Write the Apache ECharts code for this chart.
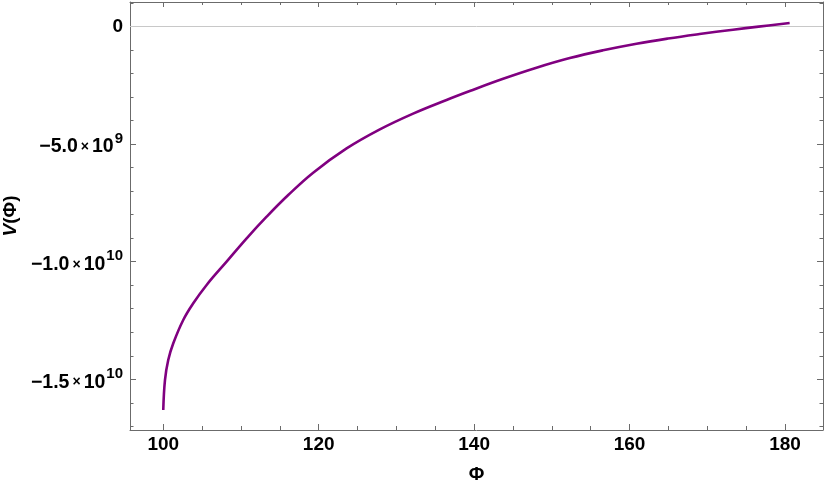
<!DOCTYPE html>
<html>
<head>
<meta charset="utf-8">
<script src="https://cdn.jsdelivr.net/npm/echarts@6/dist/echarts.min.js"></script>
<style>
html,body{margin:0;padding:0;background:#fff;}
#chart{width:825px;height:490px;}
</style>
</head>
<body>
<div id="chart"></div>
<script>
// ---- data ----
const phiValues = [100.0, 100.22, 100.64, 101.29, 102.57, 103.86, 105.58, 108.15, 110.73, 113.30,
  116.08, 119.29, 123.59, 127.87, 132.15, 136.45, 139.44, 143.73, 148.02, 152.31,
  156.59, 160.89, 164.95, 169.0, 173.31, 176.6, 180.6];
const vValues = [-16.30e9, -15.03e9, -14.18e9, -13.47e9, -12.48e9, -11.77e9, -10.99e9, -10.00e9, -9.01e9, -8.09e9,
  -7.17e9, -6.22e9, -5.19e9, -4.38e9, -3.71e9, -3.13e9, -2.75e9, -2.23e9, -1.76e9, -1.35e9,
  -1.02e9, -0.74e9, -0.52e9, -0.33e9, -0.145e9, -0.015e9, 0.14e9];

const xMajorTicks = [100, 120, 140, 160, 180];
const xMinorTicks = [105, 110, 115, 125, 130, 135, 145, 150, 155, 165, 170, 175];
const yMajorTicks = [0, -5e9, -1e10, -1.5e10];
const yTickMantissa = ['0', '−5.0', '−1.0', '−1.5'];
const yTickExponent = ['', '9', '10', '10'];
const yMinorTicks = [1e9, -1e9, -2e9, -3e9, -4e9, -6e9, -7e9, -8e9, -9e9, -11e9, -12e9, -13e9, -14e9, -16e9, -17e9];

const xName = 'Φ';
const yNameItalic = 'V';
const yNameRest = '(Φ)';

// ---- chart ----
const FRAME = '#6b6b6b';
const FONT = '"Liberation Sans", Arial, sans-serif';
const xMin = 95.72, xMax = 184.89;
const yMin = -17.153e9, yMax = 1.032e9;

function yLabel(v) {
  for (let i = 0; i < yMajorTicks.length; i++) {
    if (Math.abs(v - yMajorTicks[i]) < 1e3) {
      if (!yTickExponent[i]) return '{z|' + yTickMantissa[i] + '}';
      return '{m|' + yTickMantissa[i] + '}{x|×}{m|10}{s|' + yTickExponent[i] + '}';
    }
  }
  return '';
}

function xAxisDef(pos, ticks, len, showLine, showLabel, extra) {
  return Object.assign({
    type: 'value', position: pos, min: xMin, max: xMax,
    axisLine: {show: showLine, onZero: false, lineStyle: {color: FRAME, width: 1}},
    axisTick: {show: true, inside: true, length: len, customValues: ticks, lineStyle: {color: FRAME, width: 1}},
    axisLabel: showLabel ? {show: true, customValues: ticks, color: '#000', fontFamily: FONT, fontWeight: 'bold', fontSize: 19, margin: 5} : {show: false},
    splitLine: {show: false}
  }, extra || {});
}
function yAxisDef(pos, ticks, len, showLine, showLabel, extra) {
  return Object.assign({
    type: 'value', position: pos, min: yMin, max: yMax,
    axisLine: {show: showLine, onZero: false, lineStyle: {color: FRAME, width: 1}},
    axisTick: {show: true, inside: true, length: len, customValues: ticks, lineStyle: {color: FRAME, width: 1}},
    axisLabel: showLabel ? {
      show: true, customValues: ticks, margin: 7, formatter: yLabel,
      color: '#000', fontFamily: FONT, fontWeight: 'bold',
      rich: {
        z: {fontFamily: FONT, fontWeight: 'bold', fontSize: 19, color: '#000'},
        m: {fontFamily: FONT, fontWeight: 'bold', fontSize: 19.5, color: '#000', lineHeight: 26, verticalAlign: 'bottom'},
        x: {fontFamily: FONT, fontWeight: 'bold', fontSize: 14, color: '#000', lineHeight: 26, verticalAlign: 'bottom', padding: [0, 3, 3, 3]},
        s: {fontFamily: FONT, fontWeight: 'bold', fontSize: 15, color: '#000', lineHeight: 26, verticalAlign: 'top', padding: [0, 0, 0, 1]}
      }
    } : {show: false},
    splitLine: {show: false}
  }, extra || {});
}

const chart = echarts.init(document.getElementById('chart'), null, {renderer: 'canvas'});
chart.setOption({
  animation: false,
  backgroundColor: '#fff',
  grid: {left: 130, right: 2, top: 2, bottom: 60, containLabel: false, outerBoundsMode: 'none'},
  xAxis: [
    xAxisDef('bottom', xMajorTicks, 6, true, true, {
      name: xName, nameLocation: 'middle', nameGap: 35,
      nameTextStyle: {color: '#000', fontFamily: FONT, fontWeight: 'bold', fontSize: 19}
    }),
    xAxisDef('bottom', xMinorTicks, 4, false, false),
    xAxisDef('top', xMajorTicks, 5, true, false),
    xAxisDef('top', xMinorTicks, 3, false, false)
  ],
  yAxis: [
    yAxisDef('left', yMajorTicks, 6, true, true, {
      name: '{i|' + yNameItalic + '}{n|' + yNameRest + '}', nameLocation: 'middle', nameGap: 110, nameRotate: 90,
      nameTextStyle: {
        color: '#000', fontFamily: FONT, fontWeight: 'bold', fontSize: 19,
        rich: {
          i: {fontFamily: FONT, fontWeight: 'bold', fontStyle: 'italic', fontSize: 19, color: '#000'},
          n: {fontFamily: FONT, fontWeight: 'bold', fontSize: 19, color: '#000'}
        }
      }
    }),
    yAxisDef('left', yMinorTicks, 3.5, false, false),
    yAxisDef('right', yMajorTicks, 6, true, false),
    yAxisDef('right', yMinorTicks, 3.5, false, false)
  ],
  series: [{
    type: 'line',
    xAxisIndex: 0, yAxisIndex: 0,
    data: phiValues.map((p, i) => [p, vValues[i]]),
    showSymbol: false,
    smooth: 0.4,
    lineStyle: {color: '#800080', width: 2.6},
    z: 5,
    markLine: {
      silent: true, symbol: 'none', animation: false,
      label: {show: false},
      lineStyle: {color: '#c8c8c8', type: 'solid', width: 1},
      data: [{yAxis: 0}],
      z: 1
    }
  }]
});
</script>
</body>
</html>
